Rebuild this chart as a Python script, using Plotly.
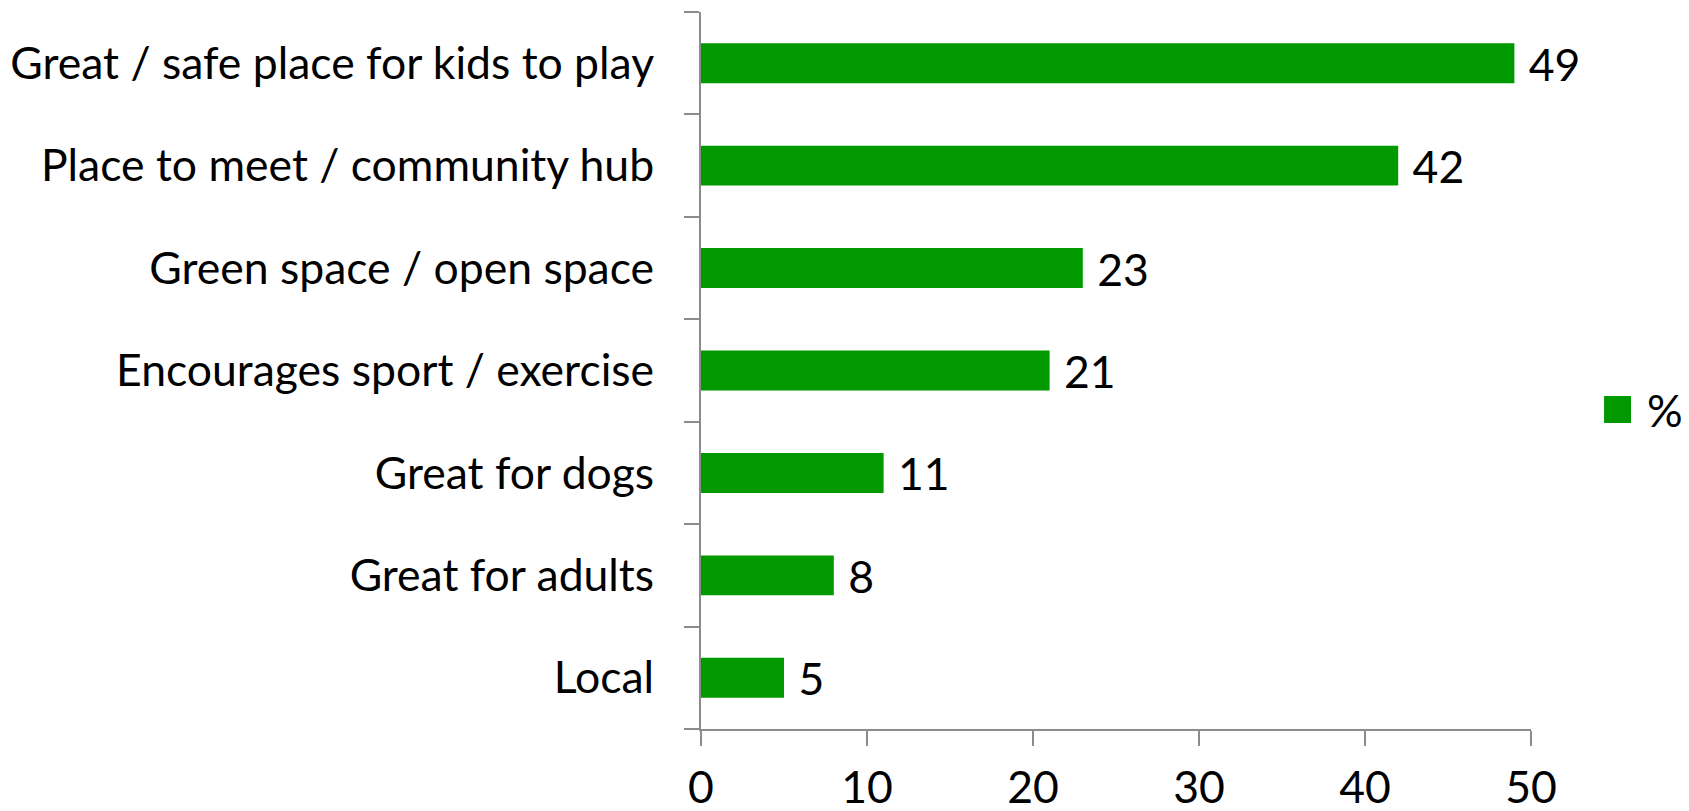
import plotly.graph_objects as go

categories = [
    "Great / safe place for kids to play",
    "Place to meet / community hub",
    "Green space / open space",
    "Encourages sport / exercise",
    "Great for dogs",
    "Great for adults",
    "Local",
]
values = [49, 42, 23, 21, 11, 8, 5]
series_name = "%"
x_ticks = [0, 10, 20, 30, 40, 50]

FONT = "Lato, sans-serif"
SIZE = 44.5
GREEN = "#009900"
AXIS = "#8c8c8c"

fig = go.Figure()

# bars, drawn bottom-up so the first category sits on top
fig.add_trace(go.Bar(
    x=values[::-1],
    y=categories[::-1],
    orientation="h",
    name=series_name,
    marker=dict(color=GREEN, line_width=0),
    width=0.39,
    text=[f" {v}" for v in values[::-1]],
    textposition="outside",
    constraintext="none",
    textfont=dict(family=FONT, size=SIZE, color="black"),
    cliponaxis=False,
    showlegend=False,
))

# legend: plotly caps legend swatches at 16px, so draw the big square by hand
fig.add_shape(
    type="rect", xref="paper", yref="paper",
    x0=1.088, x1=1.1205, y0=0.4268, y1=0.4644,
    fillcolor=GREEN, line_width=0,
)
fig.add_annotation(
    text=series_name, xref="paper", yref="paper",
    x=1.137, y=0.445, xanchor="left", yanchor="middle",
    showarrow=False,
    font=dict(family=FONT, size=SIZE, color="black"),
)

fig.update_layout(
    width=1689,
    height=811,
    margin=dict(l=693, r=166, t=4, b=90),
    plot_bgcolor="white",
    paper_bgcolor="white",
    font=dict(family=FONT, size=SIZE, color="black"),
    showlegend=False,
    xaxis=dict(
        range=[0, 50],
        tickvals=x_ticks,
        automargin=False,
        showgrid=False,
        zeroline=False,
        showline=True,
        linecolor=AXIS,
        linewidth=2,
        ticks="outside",
        ticklen=15,
        tickwidth=2,
        tickcolor=AXIS,
        ticklabelstandoff=4,
        tickfont=dict(family=FONT, size=SIZE, color="black"),
    ),
    yaxis=dict(
        type="category",
        categoryorder="array",
        categoryarray=categories[::-1],
        range=[-0.5, 6.5],
        automargin=False,
        showgrid=False,
        zeroline=False,
        showline=True,
        linecolor=AXIS,
        linewidth=2,
        ticks="outside",
        tickson="boundaries",
        ticklen=15,
        tickwidth=2,
        tickcolor=AXIS,
        ticklabelstandoff=36,
        tickfont=dict(family=FONT, size=SIZE, color="black"),
    ),
)

fig.write_html("out.html")
